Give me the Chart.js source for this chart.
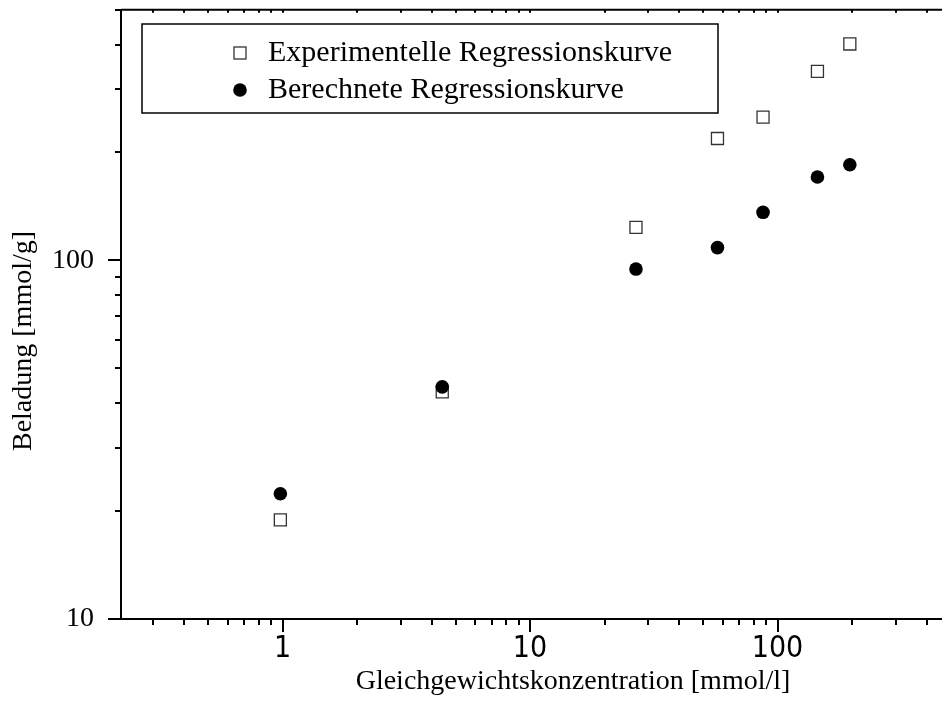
<!DOCTYPE html>
<html>
<head>
<meta charset="utf-8">
<script src="https://cdn.jsdelivr.net/npm/chart.js@4.4.0/dist/chart.umd.min.js"></script>
<style>
  html, body { margin: 0; padding: 0; background: #fff; overflow: hidden; }
  #wrap { width: 1060px; height: 722px; }
</style>
</head>
<body>
<div id="wrap"><canvas id="chart"></canvas></div>
<script>
// ─── DATA ───
const seriesLabels = ['Experimentelle Regressionskurve', 'Berechnete Regressionskurve'];
const concX = [0.98, 4.42, 26.8, 57.2, 87.4, 145, 196];
const expY = [18.9, 43.0, 123.7, 218.8, 251, 336.6, 401.5];
const calcY = [22.35, 44.4, 94.6, 108.6, 136.2, 170.8, 184.8];

const xMajor = [1, 10, 100];
const xMinor = [0.3, 0.4, 0.5, 0.6, 0.7, 0.8, 0.9, 2, 3, 4, 5, 6, 7, 8, 9,
                20, 30, 40, 50, 60, 70, 80, 90, 200, 300, 400, 500, 600, 700, 800, 900];
const yMajor = [10, 100];
const yMinor = [20, 30, 40, 50, 60, 70, 80, 90, 200, 300, 400, 500];

const SERIF = 'Liberation Serif';
const NARROW = '"Liberation Sans Narrow", "DejaVu Sans Condensed", sans-serif';
const yTitle = 'Beladung [mmol/g]';

function toPoints(xs, ys) {
    return xs.map((x, i) => ({ x: x, y: ys[i] }));
}

// ─── tick marks, top frame, y title, legend box ───
const frameAndLegend = {
    id: 'frameAndLegend',
    afterDraw(chart) {
        const ctx = chart.ctx;
        const a = chart.chartArea;
        const xs = chart.scales.x, ys = chart.scales.y;
        ctx.save();
        ctx.strokeStyle = '#000';
        ctx.lineWidth = 2;
        // top frame
        ctx.beginPath();
        ctx.moveTo(a.left, a.top);
        ctx.lineTo(a.right, a.top);
        ctx.stroke();
        // x ticks (bottom outward, top inward)
        ctx.beginPath();
        xMajor.concat(xMinor).forEach(v => {
            const px = Math.round(xs.getPixelForValue(v));
            const len = xMajor.includes(v) ? 13 : 6;
            ctx.moveTo(px, a.bottom);
            ctx.lineTo(px, a.bottom + len);
            ctx.moveTo(px, a.top);
            ctx.lineTo(px, a.top + 3);
        });
        // y ticks (left outward)
        yMajor.concat(yMinor).forEach(v => {
            const py = Math.round(ys.getPixelForValue(v));
            const len = yMajor.includes(v) ? 13 : 6;
            ctx.moveTo(a.left, py);
            ctx.lineTo(a.left - len, py);
        });
        ctx.stroke();

        // y title (sits a bit below the middle in the original)
        ctx.fillStyle = '#000';
        ctx.font = '28px "' + SERIF + '"';
        ctx.textAlign = 'center';
        ctx.textBaseline = 'middle';
        ctx.translate(24, 341);
        ctx.rotate(-Math.PI / 2);
        ctx.fillText(yTitle, 0, 0);
        ctx.setTransform(1, 0, 0, 1, 0, 0);

        // legend
        const bx = 142, by = 24, bw = 576, bh = 89;
        ctx.lineWidth = 1.5;
        ctx.strokeRect(bx, by, bw, bh);
        ctx.font = '30px "' + SERIF + '"';
        ctx.textAlign = 'left';
        // square
        ctx.lineWidth = 1.3;
        ctx.strokeStyle = '#333';
        ctx.fillStyle = '#fff';
        ctx.fillRect(234, 47, 12, 12);
        ctx.strokeRect(234, 47, 12, 12);
        ctx.fillStyle = '#000';
        ctx.fillText(seriesLabels[0], 268, 53);
        // circle
        ctx.beginPath();
        ctx.arc(240, 90, 6.8, 0, Math.PI * 2);
        ctx.fill();
        ctx.fillText(seriesLabels[1], 268, 90);
        ctx.restore();
    }
};

new Chart(document.getElementById('chart'), {
    type: 'scatter',
    data: {
        datasets: [
            {
                label: seriesLabels[0],
                data: toPoints(concX, expY),
                pointStyle: 'rect',
                radius: 8.5,
                borderWidth: 1.3,
                borderColor: '#333',
                backgroundColor: '#fff',
                order: 1
            },
            {
                label: seriesLabels[1],
                data: toPoints(concX, calcY),
                pointStyle: 'circle',
                radius: 6.8,
                borderWidth: 0,
                backgroundColor: '#000',
                order: 0
            }
        ]
    },
    options: {
        responsive: true,
        maintainAspectRatio: false,
        animation: false,
        layout: { padding: { top: 7, right: 35, left: 0, bottom: 0 } },
        plugins: { legend: { display: false }, tooltip: { enabled: false } },
        scales: {
            x: {
                type: 'logarithmic',
                min: 0.2225,
                max: 1000,
                afterBuildTicks: s => { s.ticks = xMajor.map(v => ({ value: v })); },
                afterFit: s => { s.height = 103; s.paddingLeft = 0; s.paddingRight = 0; },
                grid: { display: false },
                border: { display: true, color: '#000', width: 2 },
                ticks: {
                    autoSkip: false,
                    maxRotation: 0,
                    padding: 4,
                    color: '#000',
                    font: { family: NARROW, size: 30 },
                    callback: v => String(v)
                },
                title: {
                    display: true,
                    text: 'Gleichgewichtskonzentration [mmol/l]',
                    color: '#000',
                    font: { family: SERIF, size: 28 },
                    padding: { top: 0, bottom: 24 }
                }
            },
            y: {
                type: 'logarithmic',
                min: 10,
                max: 500,
                afterBuildTicks: s => { s.ticks = yMajor.map(v => ({ value: v })); },
                afterFit: s => { s.width = 121; s.paddingTop = 0; s.paddingBottom = 0; },
                grid: { display: false },
                border: { display: true, color: '#000', width: 2 },
                ticks: {
                    autoSkip: false,
                    padding: 19,
                    color: '#000',
                    font: { family: SERIF, size: 28 },
                    callback: v => String(v)
                }
            }
        }
    },
    plugins: [frameAndLegend]
});
</script>
</body>
</html>
